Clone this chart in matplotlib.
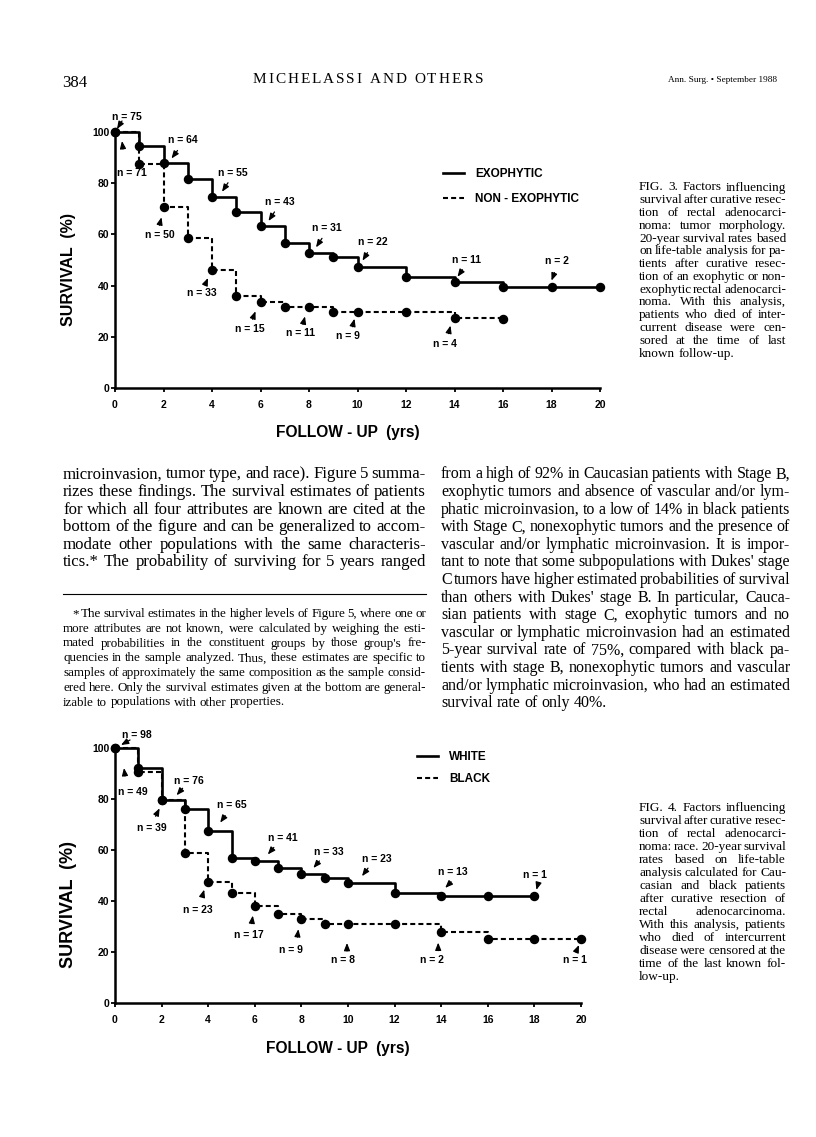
import matplotlib
matplotlib.use("Agg")
import matplotlib.pyplot as plt
from matplotlib.font_manager import FontProperties
from matplotlib.transforms import IdentityTransform, offset_copy
from matplotlib.lines import Line2D
import numpy as np

W, H = 816, 1137
SERIF = "Liberation Serif"
SANS = "Liberation Sans"
plt.rcParams["font.family"] = [SANS, "DejaVu Sans"]

# ---- Fig. 3: tumor morphology ----
exo_years = [0, 1, 2, 3, 4, 5, 6, 7, 8, 9, 10, 12, 14, 16, 18, 20]
exo_surv = [100, 94.5, 87.7, 81.6, 74.7, 68.6, 63.3, 56.5, 52.6, 51, 47.4, 43.2, 41.5, 39.6, 39.6, 39.6]
non_years = [0, 1, 2, 3, 4, 5, 6, 7, 8, 9, 10, 12, 14, 16]
non_surv = [100, 87.4, 70.6, 58.7, 46.1, 36, 33.5, 31.5, 31.5, 29.8, 29.8, 29.8, 27.5, 26.8]
exo_n_years = [0, 2, 4, 6, 8, 10, 14, 18]
exo_n = [75, 64, 55, 43, 31, 22, 11, 2]
non_n_years = [0, 2, 4, 6, 8, 10, 14]
non_n = [71, 50, 33, 15, 11, 9, 4]

# ---- Fig. 4: race ----
white_years = [0, 1, 2, 3, 4, 5, 6, 7, 8, 9, 10, 12, 14, 16, 18]
white_surv = [100, 92, 79.5, 76, 67.6, 57, 55.5, 53, 50.6, 49, 47, 43, 42, 42, 42]
black_years = [0, 1, 2, 3, 4, 5, 6, 7, 8, 9, 10, 12, 14, 16, 18, 20]
black_surv = [100, 90.5, 79.5, 58.7, 47.6, 43, 38.2, 34.9, 32.9, 31, 31, 31, 28, 25.1, 25.1, 25.1]
white_n_years = [0, 2, 4, 6, 8, 10, 14, 18]
white_n = [98, 76, 65, 41, 33, 23, 13, 1]
black_n_years = [0, 2, 4, 6, 8, 10, 14, 20]
black_n = [49, 39, 23, 17, 9, 8, 2, 1]

# page text
col1 = [
    "microinvasion, tumor type, and race). Figure 5 summa-",
    "rizes these findings. The survival estimates of patients",
    "for which all four attributes are known are cited at the",
    "bottom of the figure and can be generalized to accom-",
    "modate other populations with the same characteris-",
    "tics.* The probability of surviving for 5 years ranged",
]
col2 = [
    "from a high of 92% in Caucasian patients with Stage B,",
    "exophytic tumors and absence of vascular and/or lym-",
    "phatic microinvasion, to a low of 14% in black patients",
    "with Stage C, nonexophytic tumors and the presence of",
    "vascular and/or lymphatic microinvasion. It is impor-",
    "tant to note that some subpopulations with Dukes' stage",
    "C tumors have higher estimated probabilities of survival",
    "than others with Dukes' stage B. In particular, Cauca-",
    "sian patients with stage C, exophytic tumors and no",
    "vascular or lymphatic microinvasion had an estimated",
    "5-year survival rate of 75%, compared with black pa-",
    "tients with stage B, nonexophytic tumors and vascular",
    "and/or lymphatic microinvasion, who had an estimated",
    "survival rate of only 40%.",
]
foot = [
    "* The survival estimates in the higher levels of Figure 5, where one or",
    "more attributes are not known, were calculated by weighing the esti-",
    "mated probabilities in the constituent groups by those group's fre-",
    "quencies in the sample analyzed. Thus, these estimates are specific to",
    "samples of approximately the same composition as the sample consid-",
    "ered here. Only the survival estimates given at the bottom are general-",
    "izable to populations with other properties.",
]
cap3 = [
    "FIG. 3. Factors influencing",
    "survival after curative resec-",
    "tion of rectal adenocarci-",
    "noma: tumor morphology.",
    "20-year survival rates based",
    "on life-table analysis for pa-",
    "tients after curative resec-",
    "tion of an exophytic or non-",
    "exophytic rectal adenocarci-",
    "noma. With this analysis,",
    "patients who died of inter-",
    "current disease were cen-",
    "sored at the time of last",
    "known follow-up.",
]
cap4 = [
    "FIG. 4. Factors influencing",
    "survival after curative resec-",
    "tion of rectal adenocarci-",
    "noma: race. 20-year survival",
    "rates based on life-table",
    "analysis calculated for Cau-",
    "casian and black patients",
    "after curative resection of",
    "rectal adenocarcinoma.",
    "With this analysis, patients",
    "who died of intercurrent",
    "disease were censored at the",
    "time of the last known fol-",
    "low-up.",
]

fig = plt.figure(figsize=(W / 100, H / 100), dpi=100)
fig.patch.set_facecolor("white")
renderer = fig.canvas.get_renderer()
PIX = IdentityTransform()


def text_w(s, prop):
    return renderer.get_text_width_height_descent(s, prop, ismath=False)[0]


def put_block(lines, x0, x1, y0, dy, size, indent=0, ragged_last=True):
    prop = FontProperties(family=SERIF, size=size)
    space = text_w("a a", prop) - text_w("aa", prop)
    ratios = []
    for i, ln in enumerate(lines):
        if ragged_last and i == len(lines) - 1:
            continue
        words = ln.split()
        ww = sum(text_w(w, prop) for w in words)
        target = x1 - x0 - (indent if i == 0 else 0)
        k = len(words) - 1
        ratios.append((target / (ww + space * k), target / (ww + 0.55 * space * k)))
    r = min(np.median([a for a, b in ratios]), min(b for a, b in ratios))
    prop = FontProperties(family=SERIF, size=size * r)
    space = text_w("a a", prop) - text_w("aa", prop)
    for i, ln in enumerate(lines):
        words = ln.split()
        widths = [text_w(w, prop) for w in words]
        left = x0 + (indent if i == 0 else 0)
        if (ragged_last and i == len(lines) - 1) or len(words) == 1:
            gap = space
        else:
            gap = (x1 - left - sum(widths)) / (len(words) - 1)
        x = left
        for w, wd in zip(words, widths):
            fig.text(x, H - (y0 + i * dy), w, fontproperties=prop, transform=PIX,
                     ha="left", va="baseline")
            x += wd + gap


def put_fit(s, x0, x1, yb, family, size=10):
    prop = FontProperties(family=family, size=size)
    prop.set_size(size * (x1 - x0) / text_w(s, prop))
    fig.text(x0, H - yb, s, fontproperties=prop, transform=PIX, ha="left", va="baseline")


def put_tracked(s, x0, x1, yb, family, size):
    # letter-spaced line: glyphs spread evenly between x0 and x1
    prop = FontProperties(family=family, size=size)
    widths = [text_w(c, prop) if c != " " else text_w("a a", prop) - text_w("aa", prop) for c in s]
    extra = (x1 - x0 - sum(widths)) / (len(s) - 1)
    x = x0
    for c, wd in zip(s, widths):
        if c != " ":
            fig.text(x, H - yb, c, fontproperties=prop, transform=PIX, ha="left", va="baseline")
        x += wd + extra


def km_panel(x0, x1, ytop, ybot):
    ax = fig.add_axes([x0 / W, 1 - ybot / H, (x1 - x0) / W, (ybot - ytop) / H])
    ax.set_xlim(0, 20)
    ax.set_ylim(0, 100)
    ax.patch.set_alpha(0)
    for s in ("top", "right"):
        ax.spines[s].set_visible(False)
    for s in ("left", "bottom"):
        ax.spines[s].set_linewidth(1.8)
    ax.set_xticks(range(0, 21, 2))
    ax.set_yticks(range(0, 101, 20))
    ax.tick_params(direction="out", length=3, width=1.3, labelsize=7.5)
    ax.tick_params(axis="x", pad=5.5)
    ax.tick_params(axis="y", pad=1)
    for lab in ax.get_xticklabels() + ax.get_yticklabels():
        lab.set_fontweight("bold")
    return ax


def curve(ax, years, surv, dashed=False):
    if dashed:
        ln, = ax.step(years, surv, where="post", color="k", lw=1.5,
                      ls=(0, (2.4, 1.5)), clip_on=False)
    else:
        ln, = ax.step(years, surv, where="post", color="k", lw=1.9, clip_on=False)
    ax.plot(years, surv, "o", color="k", ms=5.8, clip_on=False, zorder=3)
    return ln


def n_labels(ax, years, surv, n_years, n_vals, layout):
    for yr, n, (tx, ty, ax0, ay0, hx, hy) in zip(n_years, n_vals, layout):
        y = surv[years.index(yr)]
        tr = offset_copy(ax.transData, fig=fig, x=tx, y=ty, units="dots")
        ax.text(yr, y, f"n = {n}", transform=tr, ha="center", va="center",
                fontsize=7.5, fontweight="bold")
        tail = offset_copy(ax.transData, fig=fig, x=ax0, y=ay0, units="dots")
        head = offset_copy(ax.transData, fig=fig, x=hx, y=hy, units="dots")
        ax.annotate("", xy=(yr, y), xycoords=head, xytext=(yr, y), textcoords=tail,
                    arrowprops=dict(arrowstyle="-|>,head_length=0.55,head_width=0.22",
                                    lw=0.9, color="k", shrinkA=0, shrinkB=0,
                                    mutation_scale=8))


leg_prop = FontProperties(family=SANS, weight="bold", size=8.5)

# ---- Fig. 3 ----
ax3 = km_panel(115, 600, 132, 388)
l_exo = curve(ax3, exo_years, exo_surv)
l_non = curve(ax3, non_years, non_surv, dashed=True)
n_labels(ax3, exo_years, exo_surv, exo_n_years, exo_n, [
    (12, 15, 7, 11, 2, 3), (19, 23.5, 14, 13, 8, 5), (21, 24, 16, 14, 10, 5),
    (19, 24, 14, 14, 8, 5), (18, 25, 13, 15, 7, 6), (15, 25, 10, 14, 5, 6),
    (12, 22, 8, 12, 3, 5), (5, 26, 3, 14, 0, 6)])
n_labels(ax3, non_years, non_surv, non_n_years, non_n, [
    (17, -41, 8, -17, 7, -9), (-4, -28, -4, -18, -2, -10), (-10, -23, -7, -15, -4, -8),
    (-11, -27, -8, -17, -5, -9), (-9, -26, -6, -17, -4, -9), (-10, -24, -5, -15, -3, -7),
    (-10, -26, -6, -16, -4, -8)])
ax3.legend([l_exo, l_non], ["EXOPHYTIC", "NON - EXOPHYTIC"], loc="upper left",
           bbox_to_anchor=(443, H - 168), bbox_transform=PIX, frameon=False, prop=leg_prop,
           handlelength=1.75, handletextpad=1.0, labelspacing=1.1, borderpad=0,
           borderaxespad=0)
ax3.set_xlabel("FOLLOW - UP  (yrs)", fontsize=11.2, fontweight="bold")
ax3.xaxis.set_label_coords(348, H - 425, transform=PIX)
ax3.set_ylabel("SURVIVAL  (%)", fontsize=11.5, fontweight="bold")
ax3.yaxis.set_label_coords(76, H - 270, transform=PIX)

# ---- Fig. 4 ----
ax4 = km_panel(115, 581, 748, 1003)
l_white = curve(ax4, white_years, white_surv)
l_black = curve(ax4, black_years, black_surv, dashed=True)
n_labels(ax4, white_years, white_surv, white_n_years, white_n, [
    (22, 13, 15, 8, 6, 3), (27, 19, 21, 12, 15, 5), (24, 26, 17, 15, 12, 8),
    (28, 23, 19, 14, 13, 7), (27, 22, 18, 13, 12, 6), (29, 24, 20, 15, 14, 7),
    (12, 24, 10, 14, 4, 8), (1, 21, 4, 13, 2, 6)])
n_labels(ax4, black_years, black_surv, black_n_years, black_n, [
    (18, -44, 10, -28, 9, -20), (-10, -28, -6, -16, -2, -8), (-10, -28, -6, -15, -4, -8),
    (-6, -29, -3, -18, -2, -10), (-10, -31, -4, -18, -3, -10), (-5, -36, -1, -27, -1, -19),
    (-9, -28, -3, -19, -3, -11), (-6, -21, -5, -13, -2, -6)])
ax4.legend([l_white, l_black], ["WHITE", "BLACK"], loc="upper left",
           bbox_to_anchor=(417, H - 751), bbox_transform=PIX, frameon=False, prop=leg_prop,
           handlelength=1.75, handletextpad=1.0, labelspacing=0.85, borderpad=0,
           borderaxespad=0)
ax4.set_xlabel("FOLLOW - UP  (yrs)", fontsize=11.2, fontweight="bold")
ax4.xaxis.set_label_coords(338, H - 1041, transform=PIX)
ax4.set_ylabel("SURVIVAL  (%)", fontsize=13, fontweight="bold")
ax4.yaxis.set_label_coords(77, H - 904, transform=PIX)

# ---- page header ----
put_fit("384", 62, 87, 87, SERIF)
put_tracked("MICHELASSI AND OTHERS", 253, 483, 83, SERIF, 11)
put_fit("Ann. Surg. \u2022 September 1988", 668, 776, 82, SERIF)

# ---- captions and body ----
put_block(cap3, 639, 786, 190.5, 12.77, 8)
put_block(cap4, 639, 786, 811, 13.0, 8)
put_block(col1, 63, 426, 478.5, 17.6, 10, ragged_last=False)
put_block(col2, 441, 790, 478.5, 17.6, 10)
fig.add_artist(Line2D([63, 426], [H - 594, H - 594], transform=PIX, color="k", lw=0.8))
put_block(foot, 63, 426, 617, 14.75, 8, indent=9)

fig.savefig("out.png", dpi=100)
